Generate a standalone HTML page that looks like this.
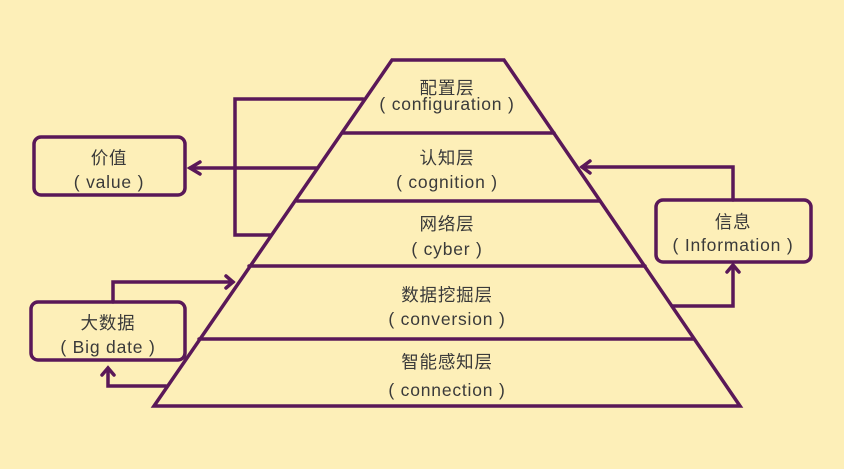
<!DOCTYPE html>
<html><head><meta charset="utf-8"><style>
html,body{margin:0;padding:0;background:#fdefb8;}
svg{display:block}
text{font-family:"Liberation Sans","Noto Sans CJK SC",sans-serif;font-size:17.5px;fill:#3a3a3a;text-anchor:middle;letter-spacing:0.8px}
</style></head><body>
<svg width="844" height="469" viewBox="0 0 844 469" xmlns="http://www.w3.org/2000/svg">
<rect width="844" height="469" fill="#fdefb8"/>
<g stroke="#5a1858" stroke-width="3.5" fill="none" stroke-linecap="round">
<polygon points="392,60 504,60 740,406 154,406"/>
<line x1="342" y1="133" x2="554" y2="133"/>
<line x1="297" y1="201" x2="600" y2="201"/>
<line x1="249" y1="266" x2="645" y2="266"/>
<line x1="199" y1="339" x2="693" y2="339"/>
<polyline points="363,99 235,99 235,235 270,235"/>
<line x1="317" y1="168" x2="190" y2="168"/>
<polyline points="200,162 190,168 200,174"/>
<rect x="34" y="137" width="151" height="58" rx="7"/>
<rect x="31" y="302" width="154" height="58" rx="7"/>
<polyline points="113,302 113,282 233,282"/>
<polyline points="226,276 233,282 226,288"/>
<polyline points="166,386 108,386 108,369"/>
<polyline points="102,375 108,368 114,375"/>
<rect x="656" y="200" width="155" height="62" rx="7"/>
<polyline points="733,200 733,167 582,167"/>
<polyline points="590,161 582,167 590,173"/>
<polyline points="672,306 733,306 733,266"/>
<polyline points="727,272 733,265 739,272"/>
</g>
<text x="447" y="94">配置层</text>
<text x="447" y="110">( configuration )</text>
<text x="447" y="164">认知层</text>
<text x="447" y="188">( cognition )</text>
<text x="447" y="230">网络层</text>
<text x="447" y="255">( cyber )</text>
<text x="447" y="301">数据挖掘层</text>
<text x="447" y="325">( conversion )</text>
<text x="447" y="368">智能感知层</text>
<text x="447" y="396">( connection )</text>
<text x="109" y="164">价值</text>
<text x="109" y="188">( value )</text>
<text x="108" y="329">大数据</text>
<text x="108" y="353">( Big date )</text>
<text x="733" y="228">信息</text>
<text x="733" y="251">( Information )</text>
</svg>
</body></html>
